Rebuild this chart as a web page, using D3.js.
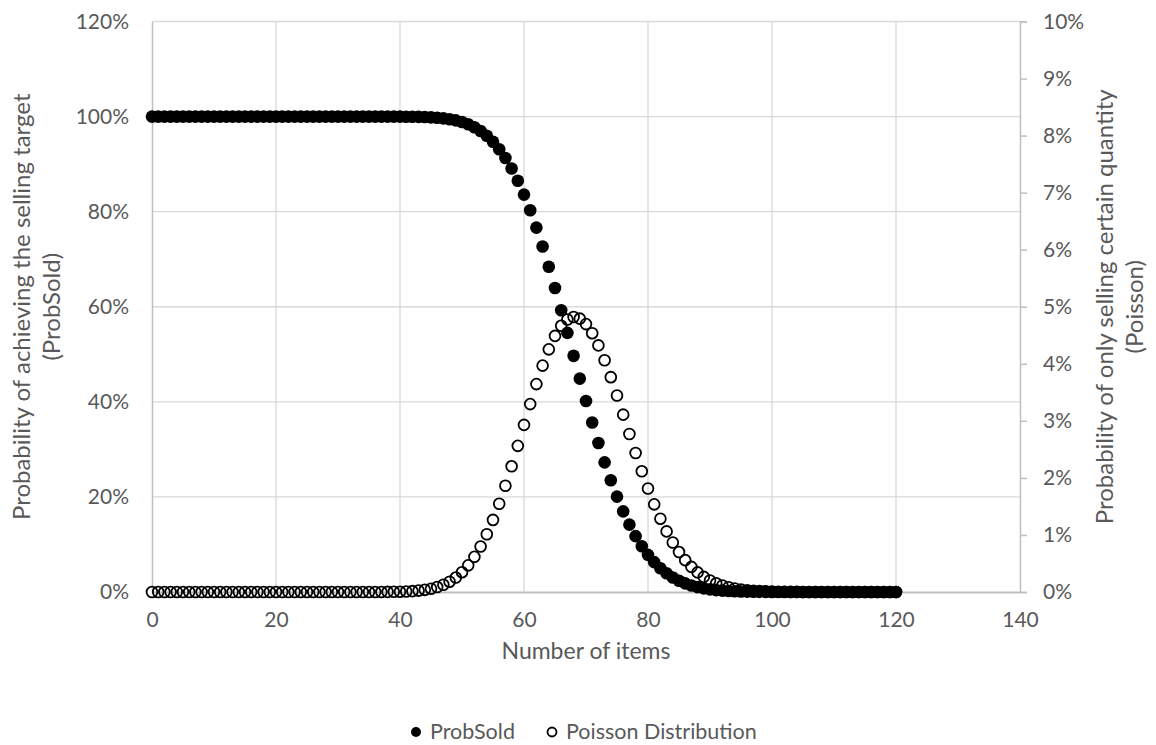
<!DOCTYPE html>
<html><head><meta charset="utf-8">
<script src="https://cdn.jsdelivr.net/npm/d3@7"></script>
<style>
body{margin:0;background:#fff}
text{font-family:Lato,"Open Sans",sans-serif;fill:#595959}
</style>
</head><body><svg width="1156" height="745"></svg>
<script>
// number of items on hand, 0..120
var items = d3.range(0, 121)

// probability of selling at least the target (percent)
var probSold = [
 100,100,100,100,100,100,100,100,100,100,
 100,100,100,100,100,100,100,100,100,100,
 100,100,100,100,100,100,100,100,100,100,
 100,100,100,100,100,99.999,99.999,99.998,99.996,99.993,
 99.987,99.978,99.962,99.938,99.900,99.842,99.755,99.629,99.448,99.195,
 98.848,98.381,97.765,96.967,95.954,94.691,93.143,91.281,89.078,86.516,
 83.587,80.294,76.650,72.682,68.428,63.939,59.274,54.497,49.677,44.886,
 40.191,35.654,31.331,27.269,23.504,20.059,16.951,14.181,11.745,9.630,
 7.816,6.280,4.994,3.932,3.065,2.365,1.806,1.366,1.023,0.758,
 0.556,0.404,0.291,0.207,0.146,0.102,0.071,0.049,0.033,0.022,
 0.015,0.010,0.006,0.004,0.003,0.002,0.001,0.001,0,0,
 0,0,0,0,0,0,0,0,0,0,
 0
]

// probability of selling exactly that many (percent, right axis)
var poisson = [
 0,0,0,0,0,0,0,0,0,0,
 0,0,0,0,0,0,0,0,0,0,
 0,0,0,0,0,0,0,0,0,0,
 0,0,0,0.0001,0.0001,0.0003,0.0006,0.0010,0.0019,0.0033,
 0.0056,0.0094,0.0153,0.0244,0.0381,0.0581,0.0866,0.1265,0.1807,0.2530,
 0.3472,0.4670,0.6160,0.7974,1.0129,1.2634,1.5477,1.8626,2.2031,2.5615,
 2.9287,3.2936,3.6442,3.9681,4.2533,4.4889,4.6657,4.7771,4.8193,4.7913,
 4.6955,4.5368,4.3225,4.0620,3.7656,3.4443,3.1089,2.7697,2.4360,2.1153,
 1.8138,1.5362,1.2851,1.0622,0.8674,0.7001,0.5584,0.4403,0.3433,0.2646,
 0.2017,0.1520,0.1134,0.0836,0.0610,0.0441,0.0315,0.0223,0.0156,0.0108,
 0.0074,0.0050,0.0034,0.0023,0.0015,0.0010,0.0006,0.0004,0.0003,0.0002,
 0.0001,0.0001,0,0,0,0,0,0,0,0,
 0
]

var xTicks = [0,20,40,60,80,100,120,140]
var leftTicks = [0,20,40,60,80,100,120]
var rightTicks = [0,1,2,3,4,5,6,7,8,9,10]

var svg = d3.select('svg')
var pLeft = 152, pRight = 1020, pTop = 21.5, pBottom = 592

var x = d3.scaleLinear().domain([0,140]).range([pLeft,pRight])
var yL = d3.scaleLinear().domain([0,120]).range([pBottom,pTop])
var yR = d3.scaleLinear().domain([0,10]).range([pBottom,pTop])

// gridlines
svg.append('g').selectAll('line').data(leftTicks.slice(1)).join('line')
    .attr('x1',pLeft).attr('x2',pRight)
    .attr('y1',d=>yL(d)).attr('y2',d=>yL(d))
    .attr('stroke','#d9d9d9').attr('stroke-width',1.3)
svg.append('g').selectAll('line').data(xTicks.slice(1,-1)).join('line')
    .attr('x1',d=>x(d)).attr('x2',d=>x(d))
    .attr('y1',pTop).attr('y2',pBottom)
    .attr('stroke','#d9d9d9').attr('stroke-width',1.3)

// axes
var gx = svg.append('g').attr('transform','translate(0,'+pBottom+')')
    .call(d3.axisBottom(x).tickValues(xTicks).tickSize(0).tickPadding(20))
var gl = svg.append('g').attr('transform','translate('+pLeft+',0)')
    .call(d3.axisLeft(yL).tickValues(leftTicks).tickSize(0).tickPadding(23).tickFormat(d=>d+'%'))
var gr = svg.append('g').attr('transform','translate('+pRight+',0)')
    .call(d3.axisRight(yR).tickValues(rightTicks).tickSize(7).tickPadding(16).tickFormat(d=>d+'%'))
gx.select('.domain').attr('stroke','#bfbfbf').attr('stroke-width',2)
gl.select('.domain').attr('stroke','#bfbfbf').attr('stroke-width',1.5)
gr.select('.domain').attr('stroke','#bfbfbf').attr('stroke-width',1.5)
gr.selectAll('.tick line').attr('stroke','#bfbfbf').attr('stroke-width',1.5)
svg.selectAll('.tick text').style('font-size','21px').attr('fill','#595959')

// series: poisson (open) underneath, probSold (filled) on top
svg.append('g').selectAll('circle').data(items).join('circle')
    .attr('cx',d=>x(d)).attr('cy',d=>yR(poisson[d]))
    .attr('r',5.4).attr('fill','none').attr('stroke','#000').attr('stroke-width',1.8)
svg.append('g').selectAll('circle').data(items).join('circle')
    .attr('cx',d=>x(d)).attr('cy',d=>yL(probSold[d]))
    .attr('r',6.3).attr('fill','#000')

// axis titles
svg.append('text').attr('x',(pLeft+pRight)/2).attr('y',659)
    .attr('text-anchor','middle').style('font-size','23px').text('Number of items')
var lt = svg.append('text').attr('transform','translate(30,'+(pTop+pBottom)/2+') rotate(-90)')
    .attr('text-anchor','middle').style('font-size','24px')
lt.append('tspan').attr('x',0).attr('dy',0).text('Probability of achieving the selling target')
lt.append('tspan').attr('x',0).attr('dy',30).text('(ProbSold)')
var rt = svg.append('text').attr('transform','translate(1113,'+(pTop+pBottom)/2+') rotate(-90)')
    .attr('text-anchor','middle').style('font-size','24px')
rt.append('tspan').attr('x',0).attr('dy',0).text('Probability of only selling certain quantity')
rt.append('tspan').attr('x',0).attr('dy',30).text('(Poisson)')

// legend
var lg = svg.append('g')
lg.append('circle').attr('cx',416).attr('cy',732).attr('r',5).attr('fill','#000')
lg.append('text').attr('x',430).attr('y',739).style('font-size','21.5px').text('ProbSold')
lg.append('circle').attr('cx',552).attr('cy',732).attr('r',4.5)
    .attr('fill','none').attr('stroke','#000').attr('stroke-width',1.8)
lg.append('text').attr('x',566).attr('y',739).style('font-size','21.5px').text('Poisson Distribution')
</script></body></html>
